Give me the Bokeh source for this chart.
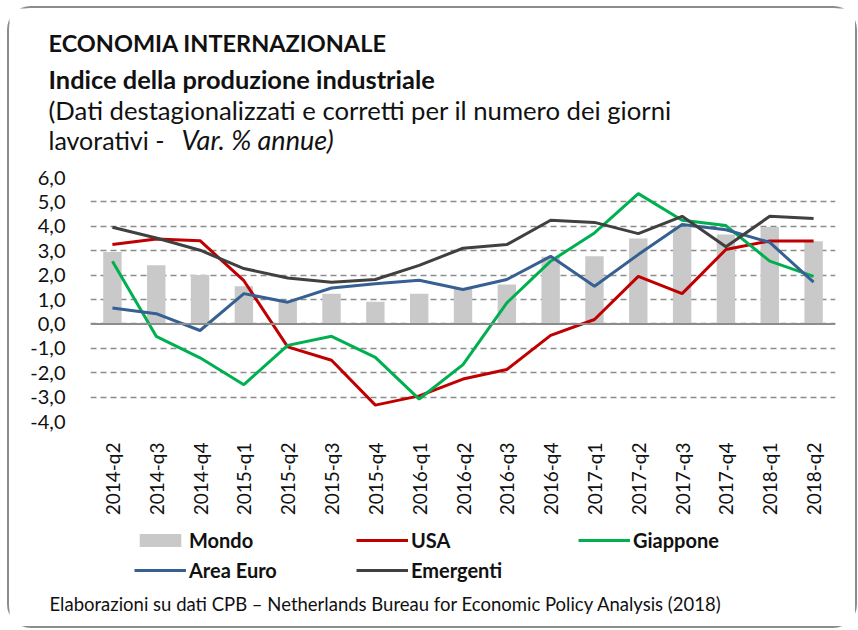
from math import pi
from bokeh.plotting import figure
from bokeh.layouts import column
from bokeh.models import (ColumnDataSource, FactorRange, Range1d, FixedTicker,
                          CustomJSTickFormatter, Span, Label, Legend, LegendItem)
from bokeh.embed import file_html
from bokeh.resources import INLINE

quarters = ["2014-q2", "2014-q3", "2014-q4", "2015-q1", "2015-q2", "2015-q3",
            "2015-q4", "2016-q1", "2016-q2", "2016-q3", "2016-q4", "2017-q1",
            "2017-q2", "2017-q3", "2017-q4", "2018-q1", "2018-q2"]
mondo = [2.95, 2.40, 2.00, 1.54, 0.95, 1.24, 0.91, 1.24, 1.43, 1.61, 2.75,
         2.77, 3.50, 3.97, 3.66, 3.97, 3.39]
usa = [3.25, 3.48, 3.41, 1.77, -0.94, -1.49, -3.33, -2.95, -2.26, -1.87, -0.47,
       0.18, 1.95, 1.24, 3.05, 3.40, 3.40]
giappone = [2.57, -0.51, -1.39, -2.49, -0.88, -0.51, -1.37, -3.08, -1.67, 0.86,
            2.57, 3.73, 5.34, 4.25, 4.03, 2.57, 1.95]
area_euro = [0.65, 0.42, -0.27, 1.24, 0.89, 1.47, 1.65, 1.79, 1.41, 1.82, 2.77,
             1.54, 2.84, 4.07, 3.86, 3.34, 1.71]
emergenti = [3.96, 3.52, 3.02, 2.27, 1.88, 1.71, 1.82, 2.40, 3.10, 3.25, 4.25,
             4.16, 3.70, 4.41, 3.16, 4.41, 4.32]
y_ticks = [-4, -3, -2, -1, 0, 1, 2, 3, 4, 5, 6]

FONT = "Lato"
TXT = "#111111"
W = 846
COLORS = dict(mondo="#c9c9c9", usa="#c00000", giappone="#00b050",
              area_euro="#376092", emergenti="#404040")


def blank(height):
    f = figure(width=W, height=height, x_range=Range1d(0, W), y_range=Range1d(0, height),
               x_axis_location=None, y_axis_location=None, min_border=0,
               output_backend="svg", toolbar_location=None, title=None)
    f.grid.visible = False
    f.outline_line_color = None
    f.border_fill_color = "white"
    f.background_fill_color = "white"
    f.frame_align = False
    return f


def lab(f, text, x, y, size, style="normal"):
    f.add_layout(Label(x=x, y=y, x_units="screen", y_units="screen", text=text,
                       text_font=FONT, text_font_size=size, text_font_style=style,
                       text_color=TXT, text_baseline="alphabetic", text_align="left"))


# ---- title block
top = blank(152)
lab(top, "ECONOMIA INTERNAZIONALE", 39, 118, "23.5px", "bold")
lab(top, "Indice della produzione industriale", 39, 82, "25.4px", "bold")
lab(top, "(Dati destagionalizzati e corretti per il numero dei giorni", 39, 51, "25.7px")
lab(top, "lavorativi  -  ", 39, 21, "25px")
lab(top, "Var. % annue)", 172, 21, "27px", "italic")

# ---- main chart
src = ColumnDataSource(dict(q=quarters, mondo=mondo, usa=usa, giappone=giappone,
                            area_euro=area_euro, emergenti=emergenti))

p = figure(x_range=FactorRange(*quarters), y_range=Range1d(-4, 6),
           width=W, height=360,
           min_border_left=81, min_border_right=20,
           min_border_top=17, min_border_bottom=99,
           output_backend="svg", toolbar_location=None, title=None)
p.frame_align = False
p.outline_line_color = None
p.background_fill_color = "white"
p.border_fill_color = "white"

p.yaxis.ticker = FixedTicker(ticks=y_ticks)
p.yaxis.formatter = CustomJSTickFormatter(code="return tick.toFixed(1).replace('.', ',');")
p.yaxis.axis_line_color = None
p.yaxis.major_tick_line_color = None
p.yaxis.minor_tick_line_color = None
p.yaxis.major_label_standoff = 19
p.yaxis.major_label_text_font = FONT
p.yaxis.major_label_text_font_size = "20px"
p.yaxis.major_label_text_color = TXT

p.xaxis.axis_line_color = None
p.xaxis.major_tick_line_color = None
p.xaxis.minor_tick_line_color = None
p.xaxis.major_label_orientation = pi / 2
p.xaxis.major_label_standoff = 15
p.xaxis.major_label_text_font = FONT
p.xaxis.major_label_text_font_size = "19px"
p.xaxis.major_label_text_color = TXT

p.xgrid.grid_line_color = None
p.ygrid.grid_line_color = "#8c8c8c"
p.ygrid.grid_line_dash = "6 4"
p.ygrid.grid_line_width = 1.5

p.vbar(x="q", top="mondo", width=0.42, source=src,
       fill_color=COLORS["mondo"], line_color=None)
p.add_layout(Span(location=0, dimension="width", line_color="#8c8c8c", line_width=2))
for key in ["usa", "giappone", "area_euro", "emergenti"]:
    p.line(x="q", y=key, source=src, line_color=COLORS[key], line_width=3)

# ---- legend + source note
bot = blank(106)
# legend swatches only (placed outside the visible range)
proxy = ColumnDataSource(dict(x=[-100, -99], y=[-100, -100]))
g_mon = bot.rect(x="x", y="y", width=1, height=1, source=proxy,
                 fill_color=COLORS["mondo"], line_color=None)
g_usa = bot.line(x="x", y="y", source=proxy, line_color=COLORS["usa"], line_width=3)
g_gia = bot.line(x="x", y="y", source=proxy, line_color=COLORS["giappone"], line_width=3)
g_eur = bot.line(x="x", y="y", source=proxy, line_color=COLORS["area_euro"], line_width=3)
g_eme = bot.line(x="x", y="y", source=proxy, line_color=COLORS["emergenti"], line_width=3)

SP = 6
legend = Legend(items=[LegendItem(label="Mondo", renderers=[g_mon]),
                       LegendItem(label="USA", renderers=[g_usa]),
                       LegendItem(label="Giappone", renderers=[g_gia]),
                       LegendItem(label="Area Euro", renderers=[g_eur]),
                       LegendItem(label="Emergenti", renderers=[g_eme])],
                location=(125, 44), orientation="horizontal", ncols=3,
                glyph_width=52, glyph_height=16, label_standoff=3,
                label_width=222 - 52 - 3 - SP, label_height=20, spacing=SP,
                padding=0, margin=0, border_line_color=None,
                background_fill_alpha=0,
                label_text_font=FONT, label_text_font_style="bold",
                label_text_font_size="20px", label_text_color=TXT)
bot.add_layout(legend)
lab(bot, "Elaborazioni su dati CPB \u2013 Netherlands Bureau for Economic Policy Analysis (2018)",
    40, 23, "18.5px")

layout = column(top, p, bot, spacing=0)
layout.styles = {"border": "2px solid #8c8c8c", "border-radius": "24px",
                 "margin-left": "7px", "margin-top": "6px"}

open("out.html", "w").write(file_html(layout, INLINE))
